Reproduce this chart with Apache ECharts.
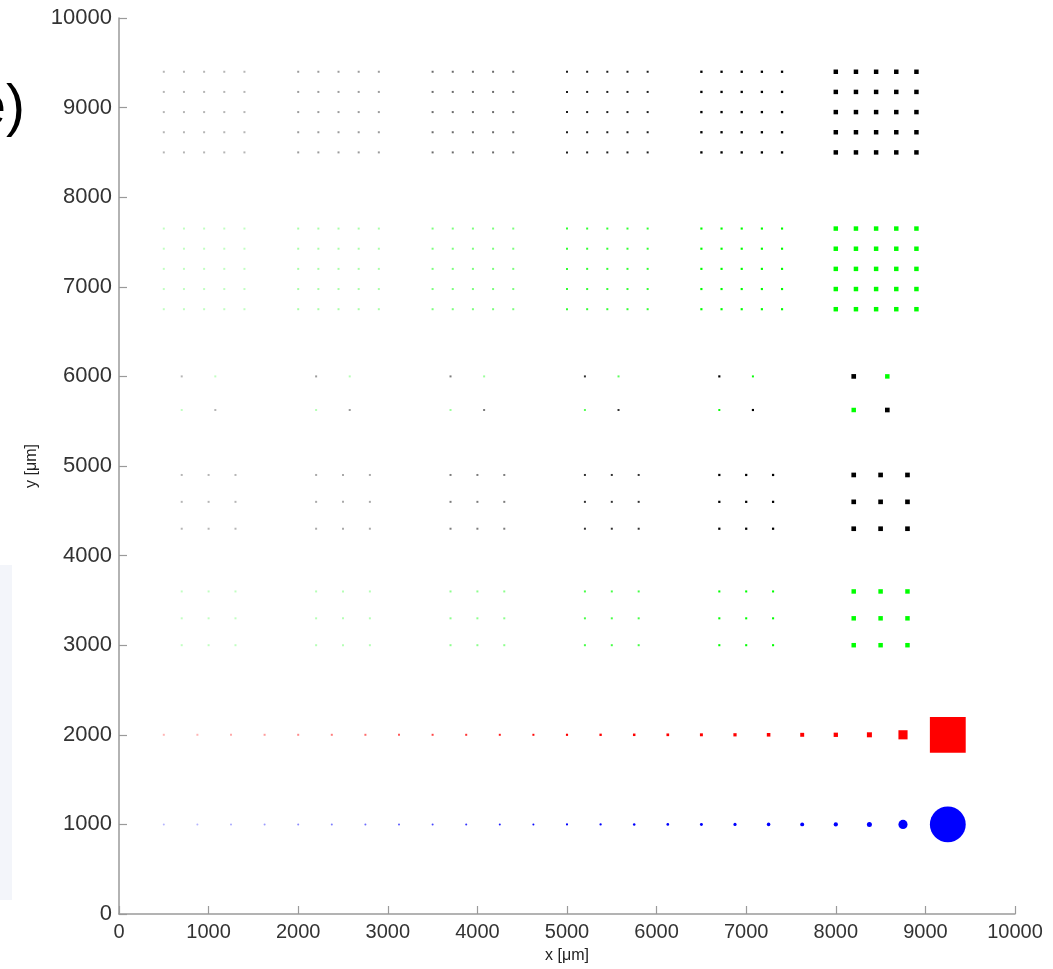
<!DOCTYPE html>
<html><head><meta charset="utf-8">
<script src="https://cdn.jsdelivr.net/npm/echarts@6/dist/echarts.min.js"></script>
<style>html,body{margin:0;padding:0;background:#fff}#c{width:1053px;height:969px}</style>
</head><body><div id="c"></div>
<script>
// ---- data (micrometres) ----
const axisTicks = [0,1000,2000,3000,4000,5000,6000,7000,8000,9000,10000];
// 5x5 grids: column x positions for each of the 6 groups
const cols5 = [
  [500,725,950,1175,1400],[2000,2225,2450,2675,2900],[3500,3725,3950,4175,4400],
  [5000,5225,5450,5675,5900],[6500,6725,6950,7175,7400],[8000,8225,8450,8675,8900]];
const blackGridRowsY = [8500,8725,8950,9175,9400];
const greenGridRowsY = [6750,6975,7200,7425,7650];
const blackGridSize = [12,14,17,21,26,50];
const greenGridSize = [11,13,16,20,24,50];
// 2x2 checkerboard pairs
const pairCols = [[700,1075],[2200,2575],[3700,4075],[5200,5575],[6700,7075],[8200,8575]];
const pairRowsY = [6000,5625];
const pairBlackSize = [12,14,16,20,24,52];
const pairGreenSize = [11,12,14,18,22,50];
// 3x3 grids
const cols3 = [[700,1000,1300],[2200,2500,2800],[3700,4000,4300],[5200,5500,5800],[6700,7000,7300],[8200,8500,8800]];
const black3RowsY = [4300,4600,4900];
const green3RowsY = [3000,3300,3600];
const black3Size = [12,13,16,20,25,52];
const green3Size = [11,12,15,19,23,50];
// single rows of squares (red) and circles (blue)
const lineX = [500,875,1250,1625,2000,2375,2750,3125,3500,3875,4250,4625,5000,5375,5750,6125,6500,6875,7250,7625,8000,8375,8750,9250];
const redRowY = 2000;
const blueRowY = 1000;
const lineSize = [12,12,13,14,15,16,17,18,19,20,21,22,24,26,28,30,33,36,40,44,48,56,102,400];

// ---- build ----
const chart = echarts.init(document.getElementById('c'), null, {renderer:'canvas'});
const FONT = 'Liberation Sans, Arial, Helvetica, sans-serif';
const axisCommon = {
  type:'value', min:0, max:10000, interval:1000,
  axisLine:{show:true, lineStyle:{color:'#9a9a9a', width:1.5}},
  axisTick:{show:true, inside:true, length:8, lineStyle:{color:'#9a9a9a', width:1.2}},
  splitLine:{show:false},
  axisLabel:{color:'#333', fontSize:20, fontFamily:FONT, showMinLabel:true, showMaxLabel:true,
    formatter: v => String(v)},
  nameLocation:'middle',
  nameTextStyle:{color:'#222', fontSize:16, fontFamily:FONT}
};
const baseOption = {
  animation:false,
  backgroundColor:'#ffffff',
  grid:{left:119, right:38, top:18, bottom:54, containLabel:false},
  xAxis:Object.assign({}, axisCommon, {name:'x [μm]', nameGap:34,
    axisLabel:Object.assign({}, axisCommon.axisLabel, {margin:8})}),
  yAxis:Object.assign({}, axisCommon, {name:'y [μm]', nameGap:76,
    axisLabel:Object.assign({}, axisCommon.axisLabel, {margin:7, fontSize:22})}),
  graphic:[
    {type:'rect', left:0, top:565, shape:{width:12, height:335}, style:{fill:'#f3f5fa'}, silent:true},
    {type:'text', right:1028, top:81, style:{text:'e)', font:'57px ' + FONT, fill:'#000'}, silent:true}
  ],
  series:[]
};
chart.setOption(baseOption);
const pxPerUm = (chart.convertToPixel({xAxisIndex:0}, 10000) - chart.convertToPixel({xAxisIndex:0}, 0)) / 10000;
const MIN = 2;
function items(pts){
  return pts.map(p => {
    let s = p[2] * pxPerUm, op = 1;
    if (s < MIN) { op = (s / MIN) * (s / MIN); s = MIN; }
    return {value:[p[0], p[1]], symbolSize:s, itemStyle:{opacity:op}};
  });
}
function gridPts(cols, rows, sizes){
  const out = [];
  cols.forEach((cx, g) => cx.forEach(x => rows.forEach(y => out.push([x, y, sizes[g]]))));
  return out;
}
const pairBlack = [], pairGreen = [];
pairCols.forEach((c, g) => {
  pairBlack.push([c[0], pairRowsY[0], pairBlackSize[g]], [c[1], pairRowsY[1], pairBlackSize[g]]);
  pairGreen.push([c[1], pairRowsY[0], pairGreenSize[g]], [c[0], pairRowsY[1], pairGreenSize[g]]);
});
function sc(name, pts, color, symbol){
  return {type:'scatter', name, symbol, silent:true, animation:false, itemStyle:{color}, data:items(pts)};
}
chart.setOption({series:[
  sc('black grid', gridPts(cols5, blackGridRowsY, blackGridSize), '#000000', 'rect'),
  sc('green grid', gridPts(cols5, greenGridRowsY, greenGridSize), '#00ff00', 'rect'),
  sc('pair black', pairBlack, '#000000', 'rect'),
  sc('pair green', pairGreen, '#00ff00', 'rect'),
  sc('black 3x3', gridPts(cols3, black3RowsY, black3Size), '#000000', 'rect'),
  sc('green 3x3', gridPts(cols3, green3RowsY, green3Size), '#00ff00', 'rect'),
  sc('red row', lineX.map((x, i) => [x, redRowY, lineSize[i]]), '#ff0000', 'rect'),
  sc('blue row', lineX.map((x, i) => [x, blueRowY, lineSize[i]]), '#0000ff', 'circle')
]});
</script></body></html>
